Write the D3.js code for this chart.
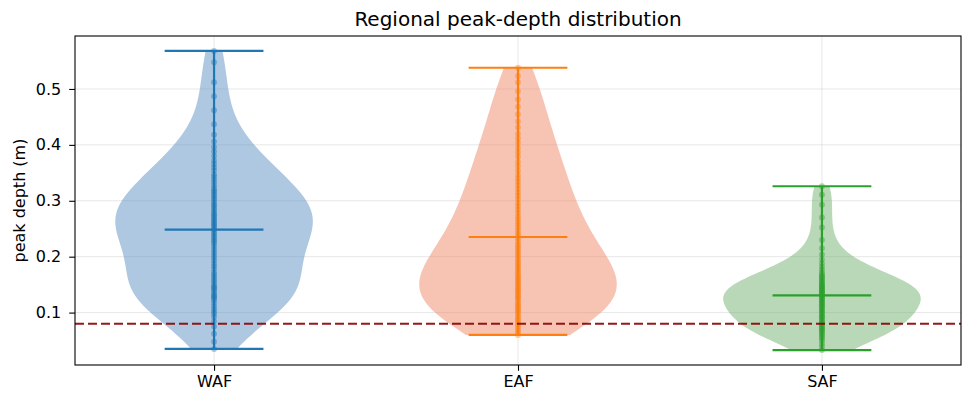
<!DOCTYPE html>
<html>
<head>
<meta charset="utf-8">
<script src="https://cdn.jsdelivr.net/npm/d3@7"></script>
<style>
  body { margin: 0; background: #fff; }
  svg { display: block; font-family: "DejaVu Sans", sans-serif; }
</style>
</head>
<body>
<svg id="chart" width="971" height="407"></svg>
<script>
// regions shown left to right
var regions = ["WAF", "EAF", "SAF"];

// peak depths (m)
var wafDepths = [0.035, 0.048, 0.062, 0.075, 0.084, 0.092, 0.098,
    0.102, 0.107, 0.112, 0.117, 0.122,
    0.126, 0.128, 0.130, 0.133, 0.137, 0.140, 0.144, 0.145, 0.148,
    0.152, 0.156, 0.160, 0.164, 0.168, 0.172,
    0.178, 0.183, 0.188, 0.193, 0.198,
    0.203, 0.208, 0.213, 0.218, 0.223,
    0.227, 0.230, 0.234, 0.237, 0.241, 0.244, 0.248,
    0.251, 0.254, 0.257, 0.259, 0.262, 0.265, 0.268, 0.271, 0.274,
    0.277, 0.280, 0.284, 0.287, 0.291, 0.294, 0.298,
    0.302, 0.305, 0.309, 0.312, 0.316, 0.319, 0.323,
    0.328, 0.333, 0.338, 0.343, 0.347,
    0.354, 0.360, 0.366, 0.372,
    0.380, 0.388, 0.396,
    0.406, 0.418,
    0.437, 0.462, 0.487, 0.512, 0.548, 0.568];
var eafDepths = [0.060, 0.064, 0.068, 0.072,
    0.076, 0.080, 0.083, 0.087, 0.090, 0.094, 0.098,
    0.101, 0.104, 0.107, 0.110, 0.113, 0.116, 0.119, 0.123,
    0.126, 0.128, 0.131, 0.134, 0.137, 0.140, 0.142, 0.145, 0.148,
    0.151, 0.154, 0.157, 0.160, 0.163, 0.166, 0.169, 0.173,
    0.176, 0.180, 0.183, 0.187, 0.190, 0.194, 0.198,
    0.202, 0.206, 0.210, 0.214, 0.218, 0.222,
    0.227, 0.232, 0.237, 0.242, 0.247,
    0.252, 0.257, 0.262, 0.267, 0.272,
    0.278, 0.284, 0.290, 0.296,
    0.303, 0.309, 0.315, 0.321,
    0.328, 0.334, 0.340, 0.346,
    0.354, 0.362, 0.370,
    0.379, 0.387, 0.395,
    0.404, 0.412, 0.420,
    0.431, 0.442, 0.455, 0.468, 0.481, 0.496,
    0.512, 0.523, 0.538];
var safDepths = [0.033, 0.039, 0.044, 0.049,
    0.053, 0.056, 0.059, 0.062, 0.064, 0.067, 0.069,
    0.071, 0.073, 0.075, 0.078, 0.080, 0.082, 0.084, 0.086, 0.089,
    0.091, 0.093, 0.095, 0.098, 0.100, 0.102, 0.104, 0.107, 0.109,
    0.111, 0.113, 0.115, 0.117, 0.119, 0.121, 0.123, 0.125, 0.127, 0.129,
    0.131, 0.133, 0.135, 0.136, 0.138, 0.139, 0.140, 0.142, 0.144, 0.146, 0.147, 0.149,
    0.151, 0.153, 0.155, 0.157, 0.160, 0.162, 0.164, 0.166, 0.169,
    0.172, 0.177, 0.182, 0.188,
    0.195, 0.204,
    0.215, 0.230, 0.252, 0.270, 0.293, 0.311, 0.326];

var threshold = 0.08;
var yTicks = [0.1, 0.2, 0.3, 0.4, 0.5];

var lineColors = ["#1f77b4", "#ff7f0e", "#2ca02c"];
var fillColors = ["#5f91c5", "#ef8969", "#71b171"];

(function () {
    var width = 971,
        height = 407,
        margin = {top: 36, right: 10, bottom: 42, left: 75},
        violinWidth = 0.65;

    var svg = d3.select("#chart");
    var series = [wafDepths, eafDepths, safDepths];

    var all = d3.merge(series),
        lo = d3.min(all), hi = d3.max(all),
        pad = (hi - lo) * 0.05;

    var x = d3.scaleLinear()
        .domain([1 - violinWidth / 2 - (2 + violinWidth) * 0.05, 3 + violinWidth / 2 + (2 + violinWidth) * 0.05])
        .range([margin.left, width - margin.right]);
    var y = d3.scaleLinear()
        .domain([lo - pad, hi + pad])
        .range([height - margin.bottom, margin.top]);

    // gaussian kde, scott bandwidth, evaluated between min and max
    function violin(values) {
        var n = values.length,
            sd = d3.deviation(values),
            bw = sd * Math.pow(n, -0.2),
            mn = d3.min(values), mx = d3.max(values),
            pts = d3.range(100).map(function (i) {
                var v = mn + (mx - mn) * i / 99;
                var dens = d3.sum(values, function (d) {
                    var z = (v - d) / bw;
                    return Math.exp(-0.5 * z * z);
                });
                return {v: v, d: dens};
            });
        var top = d3.max(pts, function (p) { return p.d; });
        pts.forEach(function (p) { p.w = p.d / top * violinWidth / 2; });
        return pts;
    }

    var plot = svg.append("g");

    // grid
    plot.append("g").selectAll("line")
        .data(yTicks).enter().append("line")
        .attr("x1", margin.left).attr("x2", width - margin.right)
        .attr("y1", function (d) { return y(d); }).attr("y2", function (d) { return y(d); })
        .style("stroke", "#b0b0b0").style("stroke-opacity", 0.3).style("stroke-width", 1);
    plot.append("g").selectAll("line")
        .data([1, 2, 3]).enter().append("line")
        .attr("y1", margin.top).attr("y2", height - margin.bottom)
        .attr("x1", function (d) { return x(d); }).attr("x2", function (d) { return x(d); })
        .style("stroke", "#b0b0b0").style("stroke-opacity", 0.3).style("stroke-width", 1);

    series.forEach(function (vals, i) {
        var pos = i + 1,
            shape = violin(vals),
            g = plot.append("g");

        var area = d3.area()
            .y(function (p) { return y(p.v); })
            .x0(function (p) { return x(pos - p.w); })
            .x1(function (p) { return x(pos + p.w); });

        g.append("path")
            .attr("d", area(shape))
            .style("fill", fillColors[i])
            .style("fill-opacity", 0.5);

        var cap = violinWidth / 4,
            mn = d3.min(vals), mx = d3.max(vals), mean = d3.mean(vals);

        g.append("line")
            .attr("x1", x(pos)).attr("x2", x(pos))
            .attr("y1", y(mn)).attr("y2", y(mx))
            .style("stroke", lineColors[i]).style("stroke-width", 2.2);

        g.selectAll("line.cap")
            .data([mn, mean, mx]).enter().append("line")
            .attr("class", "cap")
            .attr("x1", x(pos - cap)).attr("x2", x(pos + cap))
            .attr("y1", function (d) { return y(d); })
            .attr("y2", function (d) { return y(d); })
            .style("stroke", lineColors[i]).style("stroke-width", 2.2);

        g.selectAll("circle")
            .data(vals).enter().append("circle")
            .attr("cx", x(pos))
            .attr("cy", function (d) { return y(d); })
            .attr("r", 3)
            .style("fill", lineColors[i])
            .style("fill-opacity", 0.4);
    });

    // threshold
    plot.append("line")
        .attr("x1", margin.left).attr("x2", width - margin.right)
        .attr("y1", y(threshold)).attr("y2", y(threshold))
        .style("stroke", "#8b0000").style("stroke-opacity", 0.9)
        .style("stroke-width", 1.8).style("stroke-dasharray", "9,4");

    // axes
    var yAxis = svg.append("g")
        .attr("transform", "translate(" + margin.left + ",0)")
        .call(d3.axisLeft(y).tickValues(yTicks).tickSize(5.8).tickPadding(8).tickFormat(d3.format(".1f")));
    var xAxis = svg.append("g")
        .attr("transform", "translate(0," + (height - margin.bottom) + ")")
        .call(d3.axisBottom(x).tickValues([1, 2, 3]).tickSize(5.8).tickPadding(5)
            .tickFormat(function (d) { return regions[d - 1]; }));

    [xAxis, yAxis].forEach(function (ax) {
        ax.select(".domain").remove();
        ax.selectAll(".tick line").style("stroke", "#000").style("stroke-width", 1.1);
        ax.selectAll("text").style("font-size", "16px").style("fill", "#000")
            .style("font-family", "DejaVu Sans");
    });

    svg.append("rect")
        .attr("x", margin.left).attr("y", margin.top)
        .attr("width", width - margin.left - margin.right)
        .attr("height", height - margin.top - margin.bottom)
        .style("fill", "none").style("stroke", "#000").style("stroke-width", 1.1);

    svg.append("text")
        .attr("x", (margin.left + width - margin.right) / 2)
        .attr("y", margin.top - 10)
        .attr("text-anchor", "middle")
        .style("font-size", "20px")
        .text("Regional peak-depth distribution");

    svg.append("text")
        .attr("transform", "translate(25," + ((margin.top + height - margin.bottom) / 2) + ") rotate(-90)")
        .attr("text-anchor", "middle")
        .style("font-size", "16px")
        .text("peak depth (m)");
}());
</script>
</body>
</html>
